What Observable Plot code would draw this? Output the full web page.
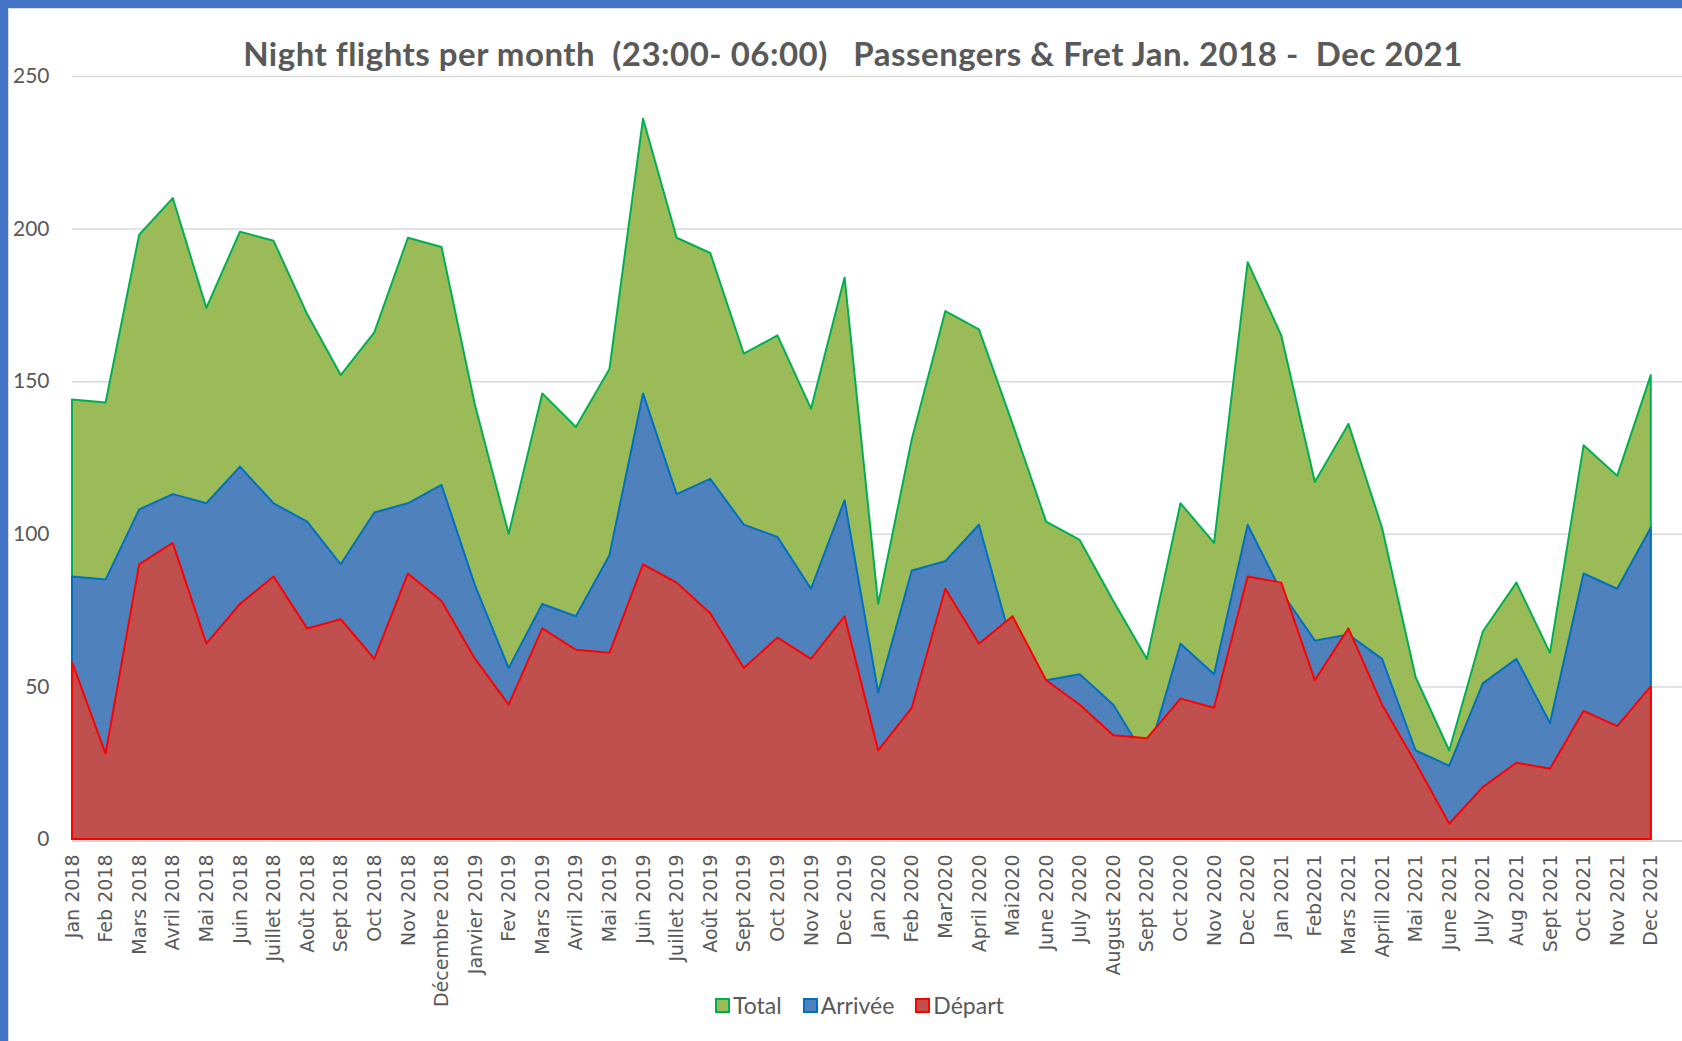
<!DOCTYPE html>
<html>
<head>
<meta charset="utf-8">
<script src="https://cdn.jsdelivr.net/npm/d3@7"></script>
<script src="https://cdn.jsdelivr.net/npm/@observablehq/plot@0.6"></script>
<style>
  html, body { margin: 0; padding: 0; background: #fff; }
  #wrap { position: relative; width: 1682px; height: 1041px; overflow: hidden; background: #fff; }
  #bt { position: absolute; left: 0; top: 0; width: 1682px; height: 8px; background: #4472C4; z-index: 3; }
  #bl { position: absolute; left: 0; top: 0; width: 8px; height: 1041px; background: #4472C4; z-index: 3; }
  #gt { position: absolute; left: 8px; top: 8px; width: 1674px; height: 1px; background: #D9D9D9; z-index: 3; }
  #gl { position: absolute; left: 8px; top: 8px; width: 1px; height: 1033px; background: #D9D9D9; z-index: 3; }
  #chart { position: absolute; left: 0; top: 0; }
  #title { position: absolute; top: 33px; left: 853px; transform: translateX(-50%);
    font-family: Lato, "Open Sans", sans-serif; font-weight: bold; font-size: 33px; line-height: 40px;
    letter-spacing: 0.5px; color: #595959; white-space: pre; z-index: 2; }
  #legend { position: absolute; top: 992px; left: 715px; display: flex; align-items: center;
    font-family: Lato, "Open Sans", sans-serif; font-size: 23px; color: #595959; z-index: 2; }
  .sw { width: 15px; height: 15px; box-sizing: border-box; border: 2px solid; margin-right: 3px; }
  .lab { margin-right: 21px; line-height: 26px; }
</style>
</head>
<body>
<div id="wrap">
  <div id="chart"></div>
  <div id="title"></div>
  <div id="legend"></div>
  <div id="bt"></div><div id="bl"></div><div id="gt"></div><div id="gl"></div>
</div>
<script>
const titleText = "Night flights per month  (23:00- 06:00)   Passengers & Fret Jan. 2018 -  Dec 2021";

const months = ["Jan 2018","Feb 2018","Mars 2018","Avril 2018","Mai 2018","Juin 2018","Juillet 2018","Août 2018","Sept 2018","Oct 2018","Nov 2018","Décembre 2018",
  "Janvier 2019","Fev 2019","Mars 2019","Avril 2019","Mai 2019","Juin 2019","Juillet 2019","Août 2019","Sept 2019","Oct 2019","Nov 2019","Dec 2019",
  "Jan 2020","Feb 2020","Mar2020","April 2020","Mai2020","June 2020","July 2020","August 2020","Sept 2020","Oct 2020","Nov 2020","Dec 2020",
  "Jan 2021","Feb2021","Mars 2021","Aprill 2021","Mai 2021","June 2021","July 2021","Aug 2021","Sept 2021","Oct 2021","Nov 2021","Dec 2021"];

const total   = [144,143,198,210,174,199,196,172,152,166,197,194, 142,100,146,135,154,236,197,192,159,165,141,184, 77,131,173,167,136,104,98,78,59,110,97,189, 165,117,136,102,53,29,68,84,61,129,119,152];
const arrivee = [86,85,108,113,110,122,110,104,90,107,110,116, 83,56,77,73,93,146,113,118,103,99,82,111, 48,88,91,103,63,52,54,44,26,64,54,103, 81,65,67,59,29,24,51,59,38,87,82,102];
const depart  = [58,28,90,97,64,77,86,69,72,59,87,78, 59,44,69,62,61,90,84,74,56,66,59,73, 29,43,82,64,73,52,44,34,33,46,43,86, 84,52,69,44,25,5,17,25,23,42,37,50];

const yTicks = [0, 50, 100, 150, 200, 250];

const seriesNames = ["Total", "Arrivée", "Départ"];
const fills = ["#9BBB59", "#4F81BD", "#C0504D"];
const strokes = ["#00B050", "#0070C0", "#FF0000"];

const data = months.map((m, i) => ({i, m, total: total[i], arrivee: arrivee[i], depart: depart[i]}));

const plot = Plot.plot({
  width: 1682,
  height: 980,
  marginLeft: 72,
  marginRight: 0,
  marginTop: 76,
  marginBottom: 141,
  style: {background: "transparent", overflow: "visible"},
  x: {type: "linear", domain: [0, 47.93]},
  y: {domain: [0, 250]},
  marks: [
    Plot.gridY(yTicks.filter(d => d > 0), {stroke: "#D9D9D9", strokeOpacity: 1, strokeWidth: 1.5}),
    Plot.areaY(data, {x: "i", y: "total", fill: fills[0], fillOpacity: 1, stroke: strokes[0], strokeWidth: 2, strokeLinejoin: "round"}),
    Plot.areaY(data, {x: "i", y: "arrivee", fill: fills[1], fillOpacity: 1, stroke: strokes[1], strokeWidth: 2, strokeLinejoin: "round"}),
    Plot.areaY(data, {x: "i", y: "depart", fill: fills[2], fillOpacity: 1, stroke: strokes[2], strokeWidth: 2, strokeLinejoin: "round"}),
    Plot.ruleY([0], {stroke: "#D9D9D9", strokeWidth: 2, dy: 1.5}),
    Plot.axisY(yTicks, {tickSize: 0, tickPadding: 23, fontSize: 21, fontFamily: "Lato, 'Open Sans', sans-serif", color: "#595959", label: null}),
    Plot.axisX(d3.range(months.length), {tickFormat: i => months[i], tickRotate: -90, tickSize: 0, tickPadding: 15,
      fontSize: 19, fontFamily: "'DejaVu Sans', Verdana, sans-serif", color: "#595959", label: null})
  ]
});
document.getElementById("chart").appendChild(plot);

document.getElementById("title").textContent = titleText;

const legend = document.getElementById("legend");
seriesNames.forEach((name, k) => {
  const sw = document.createElement("div");
  sw.className = "sw";
  sw.style.background = fills[k];
  sw.style.borderColor = strokes[k];
  const lab = document.createElement("div");
  lab.className = "lab";
  lab.textContent = name;
  legend.appendChild(sw);
  legend.appendChild(lab);
});
</script>
</body>
</html>
